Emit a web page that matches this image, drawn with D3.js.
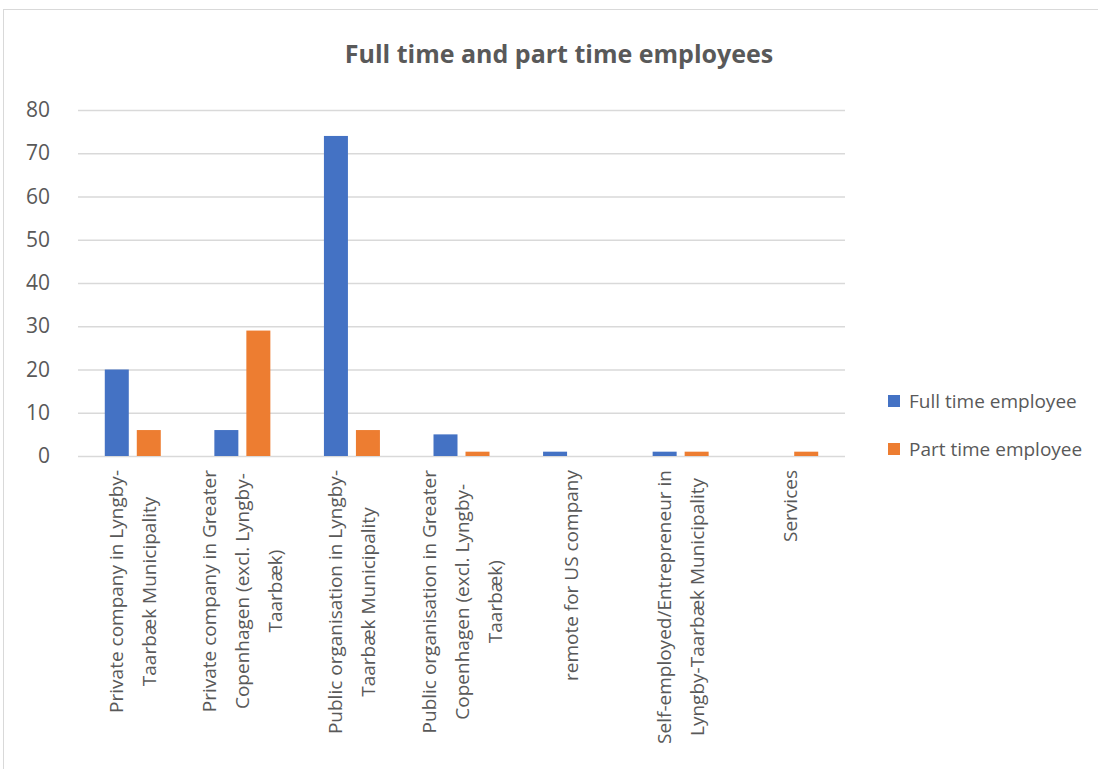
<!DOCTYPE html>
<html><head><meta charset="utf-8">
<script src="https://cdn.jsdelivr.net/npm/d3@7"></script>
<style>body{margin:0;background:#fff;} text{font-family:"Open Sans",sans-serif;}</style>
</head><body>
<svg id="c" width="1098" height="769"></svg>
<script>
const categories = [
  ["Private company in Lyngby-","Taarbæk Municipality"],
  ["Private company in Greater","Copenhagen (excl. Lyngby-","Taarbæk)"],
  ["Public organisation in Lyngby-","Taarbæk Municipality"],
  ["Public organisation in Greater","Copenhagen (excl. Lyngby-","Taarbæk)"],
  ["remote for US company"],
  ["Self-employed/Entrepreneur in","Lyngby-Taarbæk Municipality"],
  ["Services"]
];
const seriesNames = ["Full time employee","Part time employee"];
const fullTime = [20, 6, 74, 5, 1, 1, 0];
const partTime = [6, 29, 6, 1, 0, 1, 1];
const yTicks = [0,10,20,30,40,50,60,70,80];
const colors = ["#4472C4","#ED7D31"];

const svg = d3.select("#c");
const gray = "#595959";
svg.append("rect").attr("x",3.5).attr("y",9.5).attr("width",1200).attr("height",800)
  .attr("fill","none").attr("stroke","#d9d9d9");

const pL=78, pR=845, pT=110, pB=456;
const x = d3.scaleBand().domain(d3.range(categories.length)).range([pL,pR]);
const y = d3.scaleLinear().domain([0,80]).range([pB,pT]);
const xs = d3.scaleBand().domain([0,1]).range([0, 56]).paddingInner(0.25);

svg.append("text").attr("x",559).attr("y",63).attr("text-anchor","middle")
  .attr("font-size",25).attr("font-weight","bold").attr("fill",gray)
  .text("Full time and part time employees");

const yAxis = svg.append("g").attr("transform",`translate(${pL},0)`)
  .call(d3.axisLeft(y).tickValues(yTicks).tickSize(-(pR-pL)).tickPadding(28));
yAxis.select(".domain").remove();
yAxis.selectAll(".tick line").attr("stroke","#d9d9d9").attr("stroke-width",1.3);
yAxis.selectAll(".tick text").attr("font-size",21).attr("fill",gray).attr("font-family","Open Sans");

const series = [fullTime, partTime];
series.forEach((vals, si) => {
  svg.append("g").selectAll("rect").data(vals).join("rect")
    .attr("x",(d,i)=> x(i) + x.bandwidth()/2 - 28 + xs(si))
    .attr("width", xs.bandwidth())
    .attr("y", d=> y(d)).attr("height", d=> y(0)-y(d))
    .attr("fill", colors[si]);
});

const lh = 33;
categories.forEach((lines, i) => {
  const cx = x(i) + x.bandwidth()/2;
  const g = svg.append("g");
  const texts = lines.map((l, j) => g.append("text").attr("text-anchor","middle")
    .attr("font-size",19).attr("fill",gray).text(l));
  const maxW = d3.max(texts, t => t.node().getComputedTextLength());
  g.attr("transform", `translate(${cx},${470 + maxW/2}) rotate(-90)`);
  texts.forEach((t, j) => t.attr("x",0).attr("y", (j - (lines.length-1)/2)*lh + 7));
});

seriesNames.forEach((n, i) => {
  const ly = 401 + i*48;
  svg.append("rect").attr("x",888).attr("y",ly-6).attr("width",12).attr("height",12).attr("fill",colors[i]);
  svg.append("text").attr("x",909).attr("y",ly+7).attr("font-size",19).attr("fill",gray).text(n);
});
</script>
</body></html>
